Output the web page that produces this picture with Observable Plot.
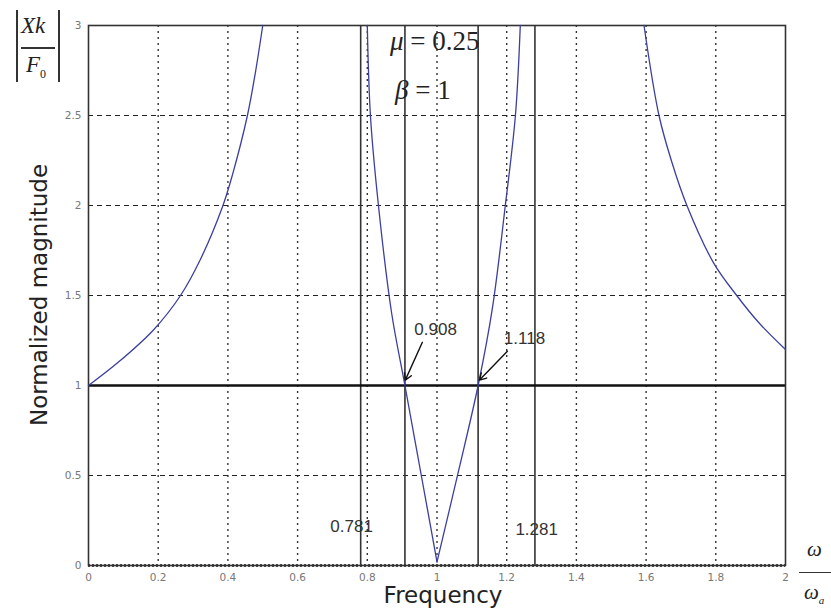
<!DOCTYPE html>
<html>
<head>
<meta charset="utf-8">
<script src="https://cdn.jsdelivr.net/npm/d3@7"></script>
<script src="https://cdn.jsdelivr.net/npm/@observablehq/plot@0.6"></script>
<style>
  body { margin: 0; background: #fff; }
  #wrap { position: relative; width: 831px; height: 613px; overflow: hidden; }
  #wrap svg { position: absolute; left: 0; top: 0; }
  .ov { position: absolute; white-space: nowrap; color: #222; }
  .serif { font-family: "Liberation Serif", "DejaVu Serif", serif; }
  .sans { font-family: "DejaVu Sans", "Liberation Sans", sans-serif; }
</style>
</head>
<body>
<div id="wrap"></div>
<script>
// ---- data ----
// branch below the first resonance
const freq1 = [0, 0.086, 0.187, 0.264, 0.321, 0.384, 0.413, 0.456, 0.479, 0.5];
const mag1  = [1, 1.13, 1.31, 1.5, 1.7, 1.99, 2.17, 2.5, 2.74, 3.0];
// V-shaped branch between resonances (falling part, rising part)
const freq2a = [0.8, 0.809, 0.832, 0.87, 0.908, 0.955, 1.0];
const mag2a  = [3.0, 2.5, 2.0, 1.4, 1.0, 0.5, 0.02];
const freq2b = [1.0, 1.06, 1.118, 1.159, 1.196, 1.225, 1.239];
const mag2b  = [0.02, 0.51, 1.0, 1.43, 2.0, 2.5, 3.0];
// branch above the second resonance
const freq3 = [1.594, 1.637, 1.674, 1.717, 1.794, 1.86, 1.923, 2.0];
const mag3  = [3.0, 2.5, 2.24, 2.0, 1.68, 1.5, 1.35, 1.2];

const markerFreqs = [0.781, 0.908, 1.118, 1.281];
const unityLevel = [1];

const xTickValues = [0, 0.2, 0.4, 0.6, 0.8, 1, 1.2, 1.4, 1.6, 1.8, 2];
const yTickValues = [0, 0.5, 1, 1.5, 2, 2.5, 3];
const xGridValues = [0.2, 0.4, 0.6, 0.8, 1, 1.2, 1.4, 1.6, 1.8];
const yGridValues = [0.5, 1.5, 2, 2.5];

const labelText = ["0.908", "1.118", "0.781", "1.281"];
const labelX    = [0.996, 1.251, 0.755, 1.286];
const labelY    = [1.31, 1.26, 0.217, 0.2];

const arrowX1 = [0.958, 1.202];
const arrowY1 = [1.24, 1.19];
const arrowX2 = [0.909, 1.122];
const arrowY2 = [1.03, 1.03];

// ---- build tables ----
const curve = [];
[[freq1, mag1], [freq2a, mag2a], [freq2b, mag2b], [freq3, mag3]].forEach(([fx, my], i) => {
  fx.forEach((f, j) => curve.push({branch: i, f, m: my[j]}));
});
const labels = labelText.map((t, i) => ({t, x: labelX[i], y: labelY[i]}));
const arrows = arrowX1.map((_, i) => ({x1: arrowX1[i], y1: arrowY1[i], x2: arrowX2[i], y2: arrowY2[i]}));

const chart = Plot.plot({
  width: 831,
  height: 613,
  marginLeft: 88,
  marginRight: 46,
  marginTop: 25,
  marginBottom: 48,
  x: {domain: [0, 2]},
  y: {domain: [0, 3]},
  style: {fontFamily: "DejaVu Sans, sans-serif", fontSize: "10.5px", color: "#777", background: "#fff"},
  marks: [
    Plot.ruleX(xGridValues, {stroke: "#333", strokeWidth: 1.4, strokeDasharray: "2,4"}),
    Plot.ruleY(yGridValues, {stroke: "#222", strokeWidth: 1.2, strokeDasharray: "5,4"}),
    Plot.ruleY([0], {stroke: "#111", strokeWidth: 2.5, strokeDasharray: "2,2"}),
    Plot.ruleX(markerFreqs, {stroke: "#333", strokeWidth: 1.6}),
    Plot.ruleY(unityLevel, {stroke: "#111", strokeWidth: 2.4}),
    Plot.frame({stroke: "#333", strokeWidth: 1.6}),
    Plot.line(curve, {x: "f", y: "m", z: "branch", stroke: "#3b3f9e", strokeWidth: 1.3, curve: "catmull-rom"}),
    Plot.arrow(arrows, {x1: "x1", y1: "y1", x2: "x2", y2: "y2", stroke: "#111", strokeWidth: 1.4, headLength: 8}),
    Plot.text(labels, {x: "x", y: "y", text: "t", fill: "#333", fontSize: 17, fontFamily: "Liberation Sans, Arial, sans-serif"}),
    Plot.axisX({ticks: xTickValues, tickFormat: d => String(d), tickSize: 0, tickPadding: 8, label: null}),
    Plot.axisY({ticks: yTickValues, tickFormat: d => String(d), tickSize: 0, tickPadding: 7, label: null})
  ]
});

const wrap = document.getElementById("wrap");
wrap.appendChild(chart);

function ov(html, style, cls) {
  const d = document.createElement("div");
  d.className = "ov " + (cls || "");
  d.innerHTML = html;
  Object.assign(d.style, style);
  wrap.appendChild(d);
  return d;
}

// top-left |Xk/F0|
ov("", {left: "16px", top: "10px", width: "1.5px", height: "72px", background: "#333"});
ov("", {left: "58px", top: "10px", width: "1.5px", height: "72px", background: "#333"});
ov("<i>Xk</i>", {left: "21px", top: "13px", fontSize: "23px"}, "serif");
ov("", {left: "21px", top: "47px", width: "34px", height: "1.5px", background: "#333"});
ov("<i>F</i><sub style='font-size:12px'>0</sub>", {left: "26px", top: "52px", fontSize: "23px"}, "serif");

// mu, beta
ov("<i>μ</i> = 0.25", {left: "390px", top: "26px", fontSize: "27px"}, "serif");
ov("<i>β</i> = 1", {left: "395px", top: "75px", fontSize: "27px"}, "serif");

// axis titles
ov("Normalized magnitude", {left: "39px", top: "295px", fontSize: "23px", transform: "translate(-50%,-50%) rotate(-90deg)", color: "#222"}, "sans");
ov("Frequency", {left: "443px", top: "582px", fontSize: "23px", transform: "translateX(-50%)", color: "#222"}, "sans");

// omega / omega_a
ov("<i>ω</i>", {left: "807px", top: "537px", fontSize: "21px"}, "serif");
ov("", {left: "799px", top: "572px", width: "32px", height: "1.3px", background: "#333"});
ov("<i>ω</i><sub style='font-size:11px'><i>a</i></sub>", {left: "804px", top: "580px", fontSize: "21px"}, "serif");
</script>
</body>
</html>
